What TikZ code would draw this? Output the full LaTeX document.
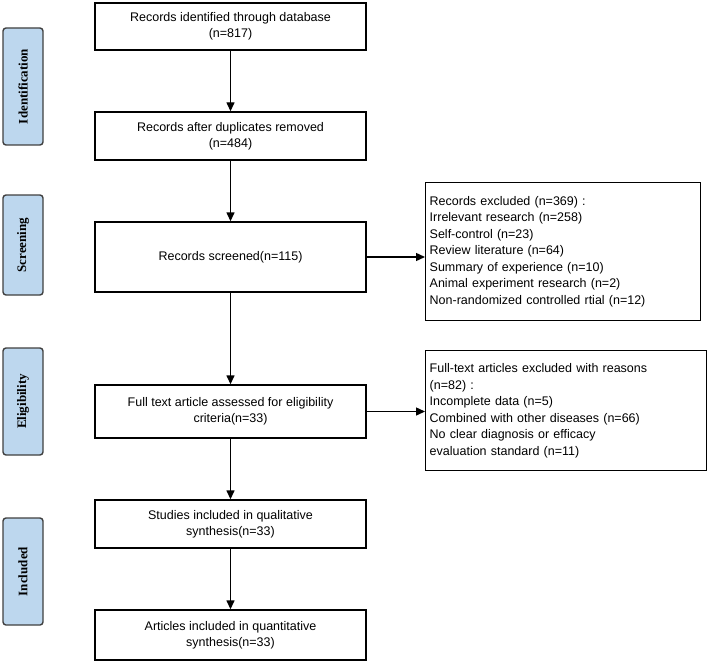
\documentclass[tikz,border=0pt]{standalone}
\usepackage{fontspec}
\setmainfont{Liberation Sans}
\newfontfamily\sidefont{Liberation Serif}
\usetikzlibrary{arrows.meta}
\definecolor{sidefill}{HTML}{BDD7EE}
\begin{document}
\begin{tikzpicture}[x=1pt,y=-1pt,
  box/.style={draw,line width=1.4pt,align=center,font=\fontsize{12.5}{16}\selectfont,inner sep=0pt},
  rbox/.style={draw,line width=1.4pt,align=left,font=\fontsize{12.5}{16.5}\selectfont,inner sep=4pt,anchor=north west},
  side/.style={draw=black!75,line width=1.4pt,fill=sidefill,rounded corners=3pt,font=\sidefont\bfseries\fontsize{13}{15}\selectfont,rotate=90,inner sep=0pt},
  arr/.style={-{Triangle[length=9pt,width=8pt]},line width=1.4pt}]
\useasboundingbox (0,0) rectangle (708,663);
\node[box,minimum width=271,minimum height=47] (b1) at (230.5,26.5) {Records identified through database\\(n=817)};
\node[box,minimum width=271,minimum height=48] (b2) at (230.5,136) {Records after duplicates removed\\(n=484)};
\node[box,minimum width=271,minimum height=70] (b3) at (230.5,257) {Records screened(n=115)};
\node[box,minimum width=271,minimum height=53] (b4) at (230.5,411.5) {Full text article assessed for eligibility\\criteria(n=33)};
\node[box,minimum width=271,minimum height=48] (b5) at (230.5,524) {Studies included in qualitative\\synthesis(n=33)};
\node[box,minimum width=271,minimum height=50] (b6) at (230.5,635) {Articles included in quantitative\\synthesis(n=33)};
\node[rbox,minimum width=275,minimum height=138,text width=267] (r1) at (425,182) {Records excluded (n=369) :\\Irrelevant research (n=258)\\Self-control (n=23)\\Review literature (n=64)\\Summary of experience (n=10)\\Animal experiment research (n=2)\\Non-randomized controlled rtial (n=12)};
\node[rbox,minimum width=281,minimum height=120,text width=273] (r2) at (425,350) {Full-text articles excluded with reasons\\(n=82) :\\Incomplete data (n=5)\\Combined with other diseases (n=66)\\No clear diagnosis or efficacy\\evaluation standard (n=11)};
\node[side,minimum width=117,minimum height=40] (s1) at (23,86.5) {Identification};
\node[side,minimum width=100,minimum height=40] (s2) at (23,245) {Screening};
\node[side,minimum width=107,minimum height=40] (s3) at (23,401.5) {Eligibility};
\node[side,minimum width=107,minimum height=40] (s4) at (23,571.5) {Included};
\draw[arr] (b1) -- (b2);
\draw[arr] (b2) -- (b3);
\draw[arr] (b3) -- (b4);
\draw[arr] (b4) -- (b5);
\draw[arr] (b5) -- (b6);
\draw[arr] (b3.east) -- (b3.east -| r1.west);
\draw[arr] (b4.east) -- (b4.east -| r2.west);
\end{tikzpicture}
\end{document}
